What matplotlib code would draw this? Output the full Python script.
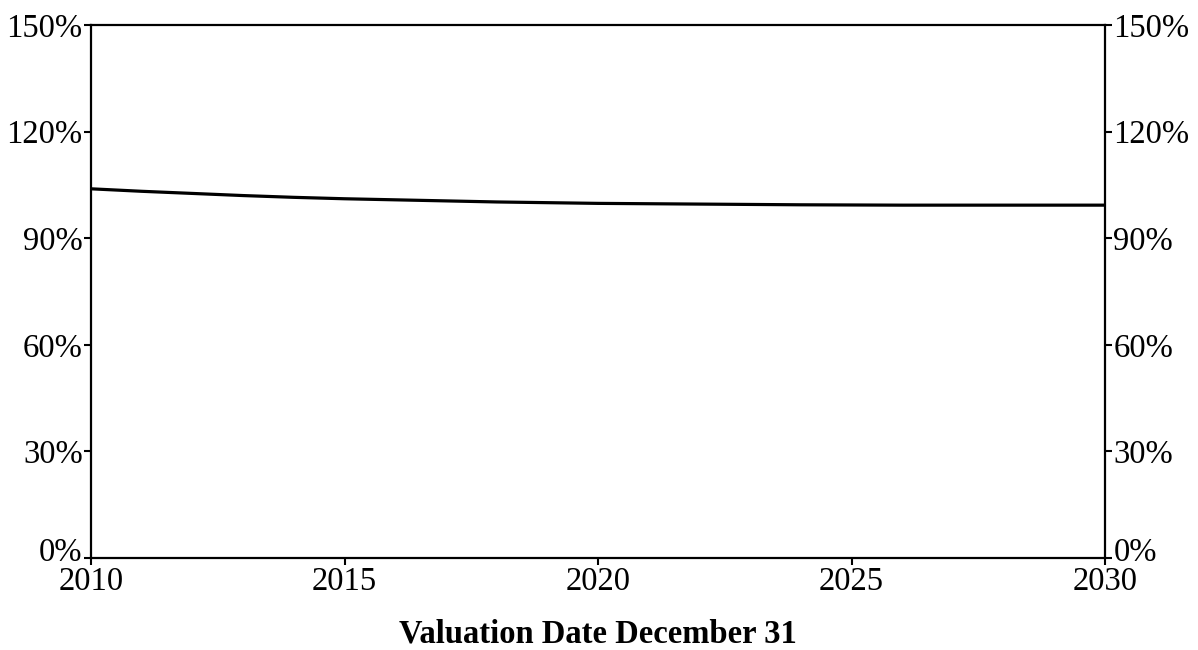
import numpy as np
import matplotlib
matplotlib.use("Agg")
import matplotlib.pyplot as plt
import matplotlib.transforms as mtransforms
from matplotlib.ticker import FuncFormatter

plt.rcParams['font.family'] = ['Liberation Serif', 'DejaVu Serif']

# values
years = [2010, 2011, 2012, 2013, 2014, 2015, 2016, 2017, 2018, 2019, 2020,
         2021, 2022, 2023, 2024, 2025, 2026, 2027, 2028, 2029, 2030]
ratio = [103.9, 103.2, 102.6, 102.0, 101.5, 101.1, 100.8, 100.5, 100.2, 100.0, 99.8,
         99.7, 99.6, 99.5, 99.4, 99.35, 99.3, 99.3, 99.3, 99.3, 99.3]
x_ticks = [2010, 2015, 2020, 2025, 2030]
y_ticks = [0, 30, 60, 90, 120, 150]

fig = plt.figure(figsize=(11.98, 6.5), dpi=100)
ax = fig.add_axes([91/1198, 92/650, 1014/1198, 533/650])
ax.plot(years, ratio, color='black', lw=2.3)

ax.set_xlim(2010, 2030)
ax.set_ylim(0, 150)
ax.set_xticks(x_ticks)
ax.set_yticks(y_ticks)
ax.yaxis.set_major_formatter(FuncFormatter(lambda v, p: "%d%%" % v))

for s in ax.spines.values():
    s.set_linewidth(1.6)

ax.tick_params(axis='both', direction='out', length=5, width=1.5,
               labelsize=23.5, colors='black')
ax.tick_params(axis='y', pad=1, left=True, right=True,
               labelleft=True, labelright=True)
ax.tick_params(axis='x', pad=1)

# lift the 0% labels a little so they clear the year labels
fig.canvas.draw()
shift = mtransforms.ScaledTranslation(0, 9/100, fig.dpi_scale_trans)
yt = ax.yaxis.get_major_ticks()[0]
yt.label1.set_transform(yt.label1.get_transform() + shift)
yt.label2.set_transform(yt.label2.get_transform() + shift)

fig.text(598/1198, (650-634)/650, "Valuation Date December 31",
         ha='center', va='center', fontsize=23.5, fontweight='bold')

fig.savefig("out.png", dpi=100)
